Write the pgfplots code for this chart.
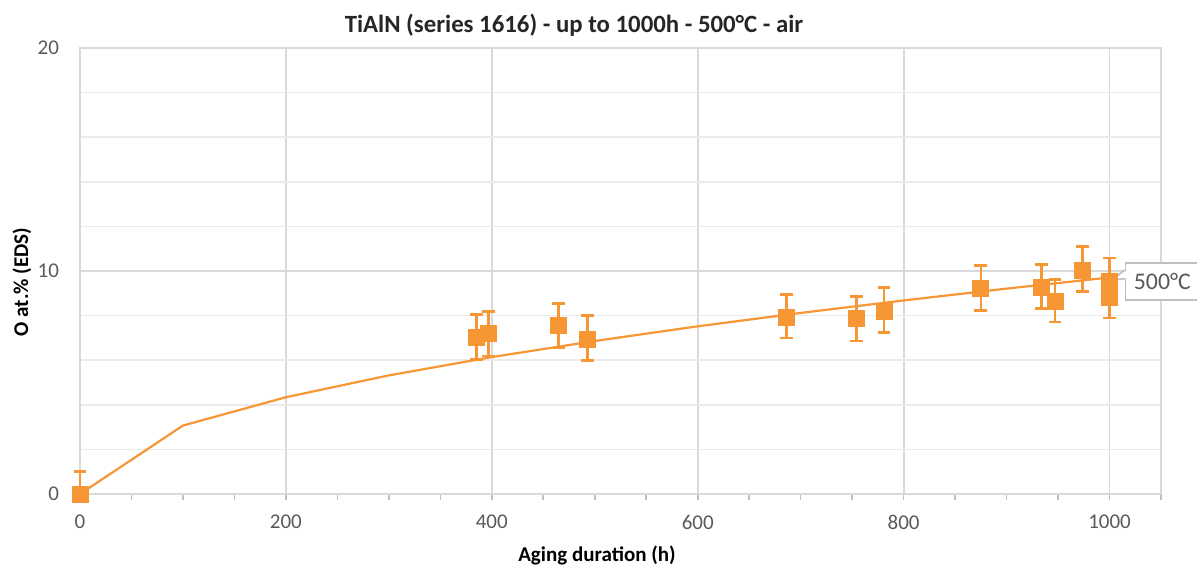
\documentclass[border=0pt]{standalone}
\usepackage{fontspec}
\setmainfont{Carlito}
\usepackage{pgfplots}
\pgfplotsset{compat=1.18}
\usepackage{pgfplotstable}
\definecolor{orng}{RGB}{247,150,52}
\definecolor{majg}{RGB}{217,217,217}
\definecolor{ming}{RGB}{235,235,235}
\definecolor{axg}{RGB}{191,191,191}
\definecolor{txt}{RGB}{89,89,89}

\pgfplotstableread{
x y ep em
0 0 1.0 0
385 7.04 1.0 1.0
397 7.18 1.0 1.0
465 7.55 1.0 1.0
493 6.95 1.05 0.95
686 7.94 1.0 0.95
754 7.86 1.0 1.0
781 8.20 1.05 0.95
875 9.24 1.0 1.0
934 9.28 1.0 0.95
947 8.62 1.0 0.9
974 10.04 1.05 0.95
1000 9.55 1.03 1.0
1000 8.83 1.0 0.94
}\pts

\pgfplotstableread{
x y
0 0
100 3.07
200 4.34
300 5.32
400 6.14
500 6.86
600 7.52
700 8.12
800 8.68
900 9.21
1000 9.71
}\fit

\begin{document}
\begin{tikzpicture}
\path[use as bounding box] (-40pt,-35pt) rectangle (558.5pt,247pt);
\begin{axis}[
  at={(0,0)}, anchor=south west,
  scale only axis, width=540.5pt, height=223pt,
  xmin=0, xmax=1050, ymin=0, ymax=20,
  clip=false,
  xtick={0,200,...,1000},
  minor xtick={0,50,...,1050},
  ytick={0,10,20},
  minor ytick={2,4,...,18},
  xmajorgrids, ymajorgrids, yminorgrids,
  major grid style={draw=majg, line width=0.9pt},
  minor grid style={draw=ming, line width=0.8pt},
  axis line style={draw=majg, line width=0.9pt},
  tick align=outside,
  xtick pos=bottom, ytick pos=left,
  major tick length=3pt, minor tick length=3pt,
  every major x tick/.append style={draw=axg, line width=0.8pt},
  every minor x tick/.append style={draw=axg, line width=0.8pt},
  every major y tick/.append style={draw=none},
  every minor y tick/.append style={draw=none},
  /pgf/number format/assume math mode=true,
  /pgf/number format/1000 sep={},
  ticklabel style={font=\fontsize{10.5}{12}\selectfont, text=txt},
  xticklabel style={yshift=-4pt},
  yticklabel style={xshift=-4pt},
]
\addplot[orng, line width=1.1pt] table[x=x,y=y] {\fit};
\addplot[orng, only marks, mark=square*, mark size=4pt,
  mark options={fill=orng, draw=orng},
  error bars/.cd, y dir=both, y explicit,
  error bar style={line width=1.3pt, orng},
  error mark options={rotate=90, mark size=3.2pt, line width=1.3pt, orng}]
  table[x=x, y=y, y error plus=ep, y error minus=em] {\pts};
% data label callout
\node[draw=axg, fill=white, line width=0.8pt, text=txt, font=\fontsize{11.9}{13}\selectfont,
  minimum width=37pt, minimum height=18.5pt, inner sep=2pt, anchor=west]
  at (axis cs:1014.6,9.53) {500°C};
\fill[white] (axis cs:1016,10.0) -- (axis cs:1003,9.6) -- (axis cs:1016,9.7) -- cycle;
\draw[axg, line width=0.8pt] (axis cs:1014.6,10.05) -- (axis cs:1003,9.6) -- (axis cs:1014.6,9.65);
\end{axis}
\node[font=\bfseries\fontsize{12.4}{14}\selectfont, text=black!85] at (247pt,234.5pt)
  {TiAlN (series 1616) - up to 1000h - 500°C - air};
\node[font=\bfseries\fontsize{10.5}{12}\selectfont] at (258.5pt,-30.5pt) {Aging duration (h)};
\node[font=\bfseries\fontsize{10.5}{12}\selectfont, rotate=90] at (-29pt,106pt) {O at.\% (EDS)};
\end{tikzpicture}
\end{document}
